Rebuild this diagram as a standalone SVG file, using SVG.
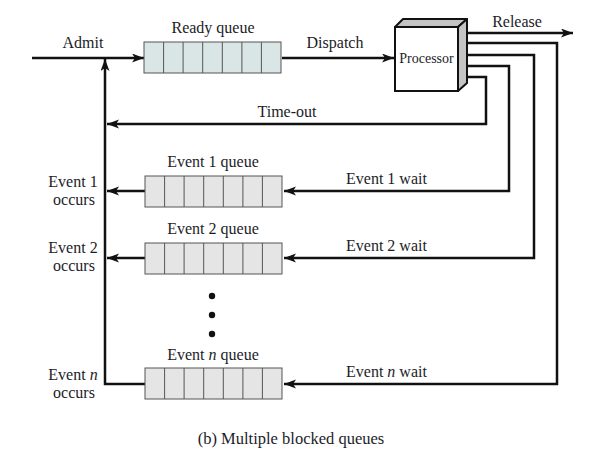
<svg xmlns="http://www.w3.org/2000/svg" width="598" height="456" viewBox="0 0 598 456">
<style>
.t{font-family:"Liberation Serif","Times New Roman",serif;font-size:16px;fill:#1c1c28}
.m{text-anchor:middle}
.c{fill:none;stroke:#111;stroke-width:2.5}
.q{stroke:#555;stroke-width:1}
.rq{fill:#dae6e6}
.eq{fill:#e5e5e5}
</style>
<defs>
<marker id="ah" markerUnits="userSpaceOnUse" markerWidth="14" markerHeight="10" refX="12" refY="4.5" orient="auto">
<path d="M0,0 L12,4.5 L0,9 L3,4.5 Z" fill="#111"/>
</marker>
<g id="cells">
<line x1="19.6" y1="0" x2="19.6" y2="31"/><line x1="39.1" y1="0" x2="39.1" y2="31"/><line x1="58.7" y1="0" x2="58.7" y2="31"/><line x1="78.3" y1="0" x2="78.3" y2="31"/><line x1="97.9" y1="0" x2="97.9" y2="31"/><line x1="117.4" y1="0" x2="117.4" y2="31"/>
</g>
</defs>
<rect width="598" height="456" fill="#fff"/>

<g id="connectors">
<line class="c" x1="32" y1="58" x2="144" y2="58" marker-end="url(#ah)"/>
<line class="c" x1="282" y1="58" x2="394" y2="58" marker-end="url(#ah)"/>
<line class="c" x1="461" y1="33" x2="573" y2="33" marker-end="url(#ah)"/>
<polyline class="c" points="461,77 486,77 486,124 107,124" marker-end="url(#ah)"/>
<polyline class="c" points="461,66 509,66 509,191 284,191" marker-end="url(#ah)"/>
<polyline class="c" points="461,55 534,55 534,258 284,258" marker-end="url(#ah)"/>
<polyline class="c" points="461,43 557,43 557,384 284,384" marker-end="url(#ah)"/>
<line class="c" x1="145" y1="191" x2="107" y2="191" marker-end="url(#ah)"/>
<line class="c" x1="145" y1="258" x2="107" y2="258" marker-end="url(#ah)"/>
<polyline class="c" points="145,384 105,384 105,59" marker-end="url(#ah)"/>
</g>

<g id="ready-queue">
<rect class="q rq" x="144" y="42" width="137" height="31"/>
<use href="#cells" x="144" y="42" class="q"/>
<text class="t m" x="213" y="33">Ready queue</text>
</g>

<g id="processor">
<polygon points="395,27 403,19 467,19 458,27" fill="#c4c4c4" stroke="#111" stroke-width="2" stroke-linejoin="round"/>
<polygon points="458,27 467,19 467,83 458,91" fill="#c4c4c4" stroke="#111" stroke-width="2" stroke-linejoin="round"/>
<rect x="395" y="27" width="63" height="64" fill="#fff" stroke="#111" stroke-width="2"/>
<text class="t m" x="426.5" y="63" style="font-size:14px">Processor</text>
</g>

<g id="event1-queue">
<rect class="q eq" x="145" y="176" width="137" height="31"/>
<use href="#cells" x="145" y="176" class="q"/>
<text class="t m" x="213" y="167">Event 1 queue</text>
</g>

<g id="event2-queue">
<rect class="q eq" x="145" y="243" width="137" height="31"/>
<use href="#cells" x="145" y="243" class="q"/>
<text class="t m" x="213" y="234">Event 2 queue</text>
</g>

<g id="eventn-queue">
<rect class="q eq" x="145" y="368" width="137" height="31"/>
<use href="#cells" x="145" y="368" class="q"/>
<text class="t m" x="213" y="360">Event <tspan font-style="italic">n</tspan> queue</text>
</g>

<g id="dots" fill="#111">
<circle cx="212" cy="296" r="3.2"/>
<circle cx="212" cy="315" r="3.2"/>
<circle cx="212" cy="334" r="3.2"/>
</g>

<g id="labels">
<text class="t m" x="83" y="48">Admit</text>
<text class="t m" x="335" y="48">Dispatch</text>
<text class="t m" x="517" y="27">Release</text>
<text class="t m" x="287" y="117">Time-out</text>
<text class="t" x="346" y="184">Event 1 wait</text>
<text class="t" x="346" y="251">Event 2 wait</text>
<text class="t" x="346" y="377">Event <tspan font-style="italic">n</tspan> wait</text>
<text class="t m" x="73" y="187">Event 1</text>
<text class="t m" x="74" y="205">occurs</text>
<text class="t m" x="73" y="253">Event 2</text>
<text class="t m" x="74" y="271">occurs</text>
<text class="t m" x="73" y="380">Event <tspan font-style="italic">n</tspan></text>
<text class="t m" x="74" y="398">occurs</text>
<text class="t m" x="291" y="444" style="font-size:16.5px">(b) Multiple blocked queues</text>
</g>
</svg>
